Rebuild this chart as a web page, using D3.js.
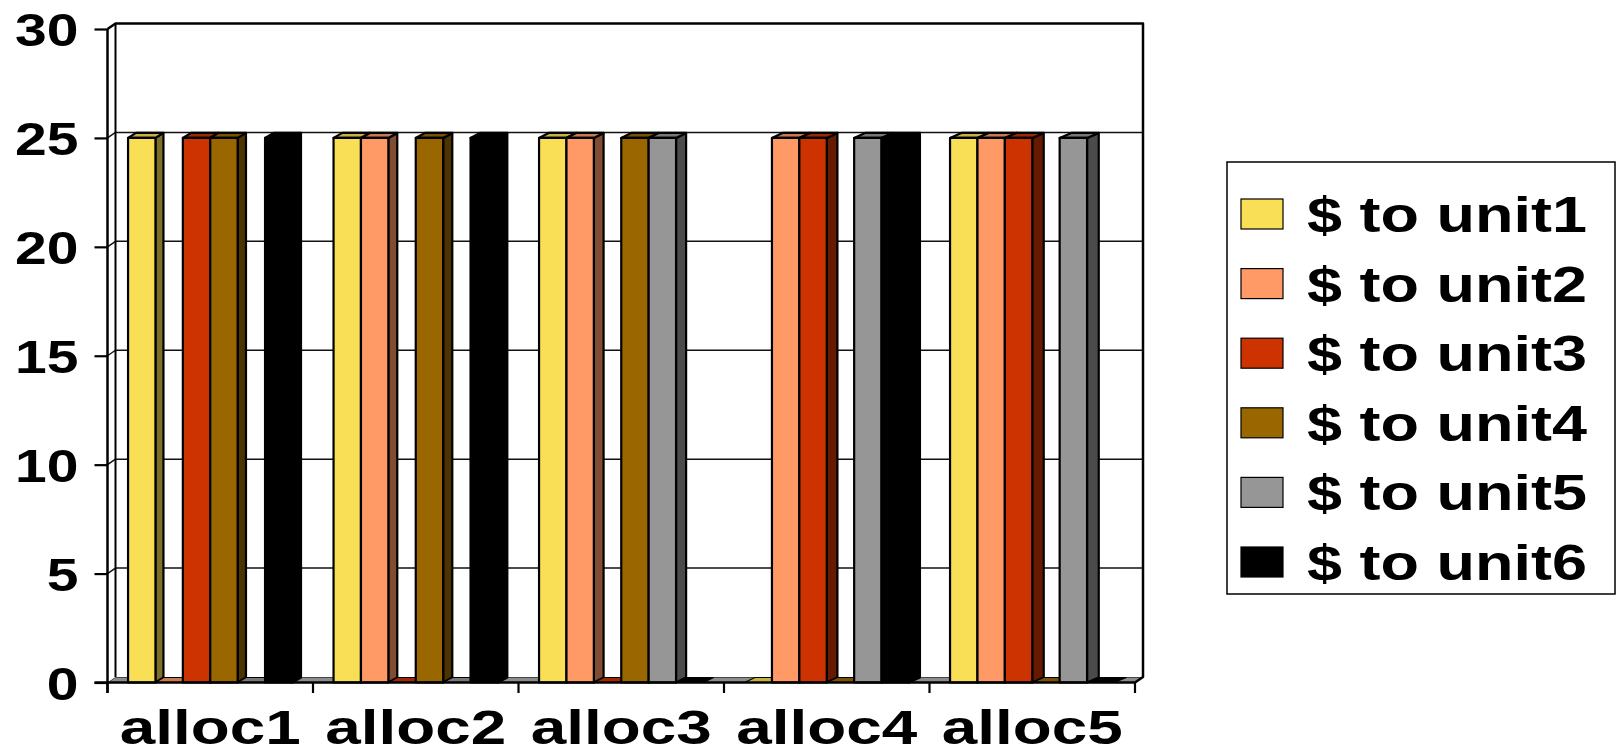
<!DOCTYPE html>
<html>
<head>
<meta charset="utf-8">
<script src="https://cdn.jsdelivr.net/npm/d3@7"></script>
<style>
  html, body { margin: 0; padding: 0; background: #ffffff; }
  svg { display: block; }
  text { font-family: "Liberation Sans", Arial, sans-serif; font-weight: bold; fill: #000; }
</style>
</head>
<body>
<script>
// ---- data ----
const categories = ["alloc1", "alloc2", "alloc3", "alloc4", "alloc5"];
const seriesNames = ["$ to unit1", "$ to unit2", "$ to unit3", "$ to unit4", "$ to unit5", "$ to unit6"];
const unit1 = [25, 25, 25, 0, 25];
const unit2 = [0, 25, 25, 25, 25];
const unit3 = [25, 0, 0, 25, 25];
const unit4 = [25, 25, 25, 0, 0];
const unit5 = [0, 0, 25, 25, 25];
const unit6 = [25, 25, 0, 25, 0];
const yTicks = [0, 5, 10, 15, 20, 25, 30];

const seriesValues = [unit1, unit2, unit3, unit4, unit5, unit6];
const frontColors = ["#F9DF55", "#FF9966", "#CC3300", "#996600", "#969696", "#000000"];
const topColors   = ["#C8B240", "#C97A52", "#A02800", "#7A5200", "#787878", "#000000"];
const sideColors  = ["#7D702B", "#804D33", "#661A00", "#4D3300", "#4B4B4B", "#000000"];

// ---- layout ----
const W = 1621, H = 755;
const svg = d3.select("body").append("svg").attr("width", W).attr("height", H);

const y = d3.scaleLinear().domain([0, 30]).range([682.5, 29]);
const x = d3.scaleBand().domain(categories).range([107.5, 1135]).padding(0);
const xs = d3.scaleBand().domain(d3.range(seriesNames.length))
  .range([0, x.bandwidth()]).paddingInner(0).paddingOuter(0.75);

const WDX = 8, WDY = -5.5;           // wall depth offset
const x0 = x.range()[0], x1 = x.range()[1];
const yb = y(0), yt = y(30);
const pts = a => a.map(p => p.join(",")).join(" ");

// floor
svg.append("polygon")
  .attr("points", pts([[x0, yb], [x1, yb], [x1 + WDX, yb + WDY], [x0 + WDX, yb + WDY]]))
  .attr("fill", "#8c8c8c").attr("stroke", "#000").attr("stroke-width", 1);

// back wall & left wall
svg.append("rect")
  .attr("x", x0 + WDX).attr("y", yt + WDY)
  .attr("width", x1 - x0).attr("height", yb - yt)
  .attr("fill", "#fff");
svg.append("polygon")
  .attr("points", pts([[x0, yt], [x0 + WDX, yt + WDY], [x0 + WDX, yb + WDY], [x0, yb]]))
  .attr("fill", "#fff");

// gridlines
const grid = svg.append("g");
yTicks.filter(v => v > 0 && v < 30).forEach(v => {
  grid.append("line")
    .attr("x1", x0 + WDX).attr("x2", x1 + WDX)
    .attr("y1", y(v) + WDY).attr("y2", y(v) + WDY)
    .attr("stroke", "#111").attr("stroke-width", 1.5);
  grid.append("line")
    .attr("x1", x0).attr("x2", x0 + WDX)
    .attr("y1", y(v)).attr("y2", y(v) + WDY)
    .attr("stroke", "#111").attr("stroke-width", 1.5);
});

// wall edges
const edges = svg.append("g").attr("stroke", "#000").attr("fill", "none")
  .attr("stroke-width", 2.5).attr("stroke-linejoin", "round");
edges.append("polyline")
  .attr("points", pts([[x0, yt], [x0 + WDX, yt + WDY], [x1 + WDX, yt + WDY], [x1 + WDX, yb + WDY], [x1, yb]]));
edges.append("line")
  .attr("x1", x0 + WDX).attr("x2", x0 + WDX)
  .attr("y1", yt + WDY).attr("y2", yb + WDY).attr("stroke-width", 2);

// bars
const bars = svg.append("g").attr("stroke", "#000").attr("stroke-width", 2.2)
  .attr("stroke-linejoin", "round");
categories.forEach((cat, i) => {
  seriesValues.forEach((vals, j) => {
    const v = vals[i];
    const xf = x(cat) + xs(j);
    const w = xs.bandwidth();
    const ytop = y(v);
    const dx = 8 + 3.7 * (xf - 127) / 933;
    const dy = -5;
    if (v > 0) {
      bars.append("polygon")
        .attr("points", pts([[xf + w, yb], [xf + w + dx, yb + dy], [xf + w + dx, ytop + dy], [xf + w, ytop]]))
        .attr("fill", sideColors[j]);
      bars.append("polygon")
        .attr("points", pts([[xf, ytop], [xf + dx, ytop + dy], [xf + w + dx, ytop + dy], [xf + w, ytop]]))
        .attr("fill", topColors[j]);
      bars.append("rect")
        .attr("x", xf).attr("y", ytop).attr("width", w).attr("height", yb - ytop)
        .attr("fill", frontColors[j]);
    } else {
      bars.append("polygon")
        .attr("points", pts([[xf, yb], [xf + dx, yb + dy], [xf + w + dx, yb + dy], [xf + w, yb]]))
        .attr("fill", topColors[j]).attr("stroke-width", 1.2);
    }
  });
});

// y axis
const yAxis = svg.append("g")
  .attr("transform", `translate(${x0},0)`)
  .call(d3.axisLeft(y).tickValues(yTicks).tickSize(13).tickFormat(d3.format("d")));
yAxis.select(".domain").remove();
yAxis.selectAll(".tick line").attr("stroke", "#000").attr("stroke-width", 2.2);
yAxis.selectAll(".tick text")
  .attr("x", 0).attr("dy", "0.36em")
  .attr("text-anchor", "end")
  .attr("font-size", 46)
  .attr("font-family", "Liberation Sans, Arial, sans-serif")
  .attr("font-weight", "bold")
  .attr("fill", "#000")
  .attr("transform", "translate(-29,0) scale(1.24,1)");
svg.append("line")
  .attr("x1", x0).attr("x2", x0).attr("y1", yt).attr("y2", yb + 10.5)
  .attr("stroke", "#000").attr("stroke-width", 2.5);

// x axis baseline, ticks, labels
svg.append("line")
  .attr("x1", x0 - 13).attr("x2", x1).attr("y1", yb).attr("y2", yb)
  .attr("stroke", "#000").attr("stroke-width", 2.5);
const bounds = categories.map(c => x(c)).concat([x1]);
svg.append("g").selectAll("line").data(bounds).join("line")
  .attr("x1", d => d).attr("x2", d => d).attr("y1", yb).attr("y2", yb + 10.5)
  .attr("stroke", "#000").attr("stroke-width", 2.2);
svg.append("g").selectAll("text").data(categories).join("text")
  .attr("transform", d => `translate(${x(d) + x.bandwidth() / 2},744) scale(1.33,1)`)
  .attr("text-anchor", "middle")
  .attr("font-size", 48)
  .text(d => d);

// legend
const lg = svg.append("g");
lg.append("rect")
  .attr("x", 1227).attr("y", 162).attr("width", 388).attr("height", 432)
  .attr("fill", "#fff").attr("stroke", "#000").attr("stroke-width", 1.5);
const rows = lg.selectAll("g.row").data(seriesNames).join("g")
  .attr("class", "row")
  .attr("transform", (d, k) => `translate(0,${214 + k * 69.6})`);
rows.append("rect")
  .attr("x", 1241).attr("y", -15).attr("width", 42).attr("height", 30)
  .attr("fill", (d, k) => frontColors[k]).attr("stroke", "#000").attr("stroke-width", 1.2);
rows.append("text")
  .attr("transform", "translate(1307,18) scale(1.26,1)")
  .attr("font-size", 50)
  .text(d => d);
</script>
</body>
</html>
